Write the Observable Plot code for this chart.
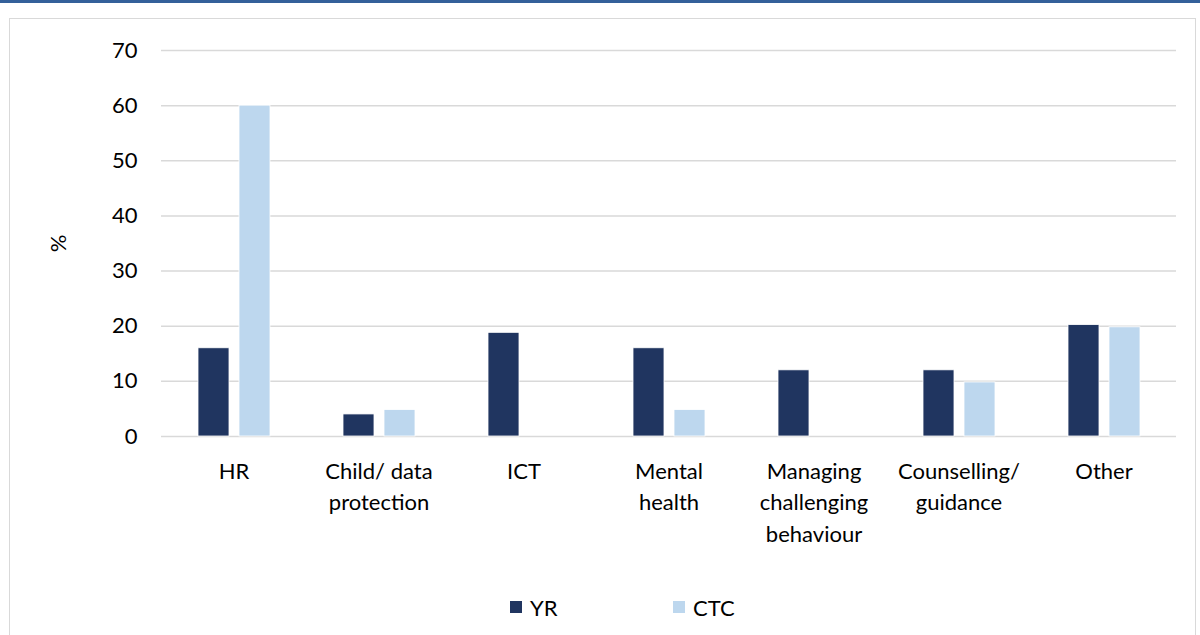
<!DOCTYPE html>
<html>
<head>
<meta charset="utf-8">
<script src="https://cdn.jsdelivr.net/npm/d3@7"></script>
<script src="https://cdn.jsdelivr.net/npm/@observablehq/plot@0.6"></script>
<style>
  html, body { margin: 0; padding: 0; background: #fff; width: 1200px; height: 635px; overflow: hidden; font-family: Lato, "Open Sans", sans-serif; }
  #topbar { position: absolute; left: 0; top: 0; width: 1200px; height: 3px; background: #34609a; }
  #frame { position: absolute; left: 9px; top: 18px; width: 1187px; height: 700px; border: 1.5px solid #d9d9d9; box-sizing: border-box; }
  #chart { position: absolute; left: 0; top: 0; }
  #legend { position: absolute; left: 0; top: 590px; width: 1200px; height: 34px; font-size: 22px; color: #000; }
  .item { position: absolute; top: 0; display: flex; align-items: center; height: 34px; }
  .sw { width: 12px; height: 12px; margin-right: 8px; }
</style>
</head>
<body>
<div id="topbar"></div>
<div id="frame"></div>
<div id="chart"></div>
<div id="legend"></div>
<script>
const categories = ["HR", "Child/ data protection", "ICT", "Mental health", "Managing challenging behaviour", "Counselling/ guidance", "Other"];
const tickLabels = ["HR", "Child/ data\nprotection", "ICT", "Mental\nhealth", "Managing\nchallenging\nbehaviour", "Counselling/\nguidance", "Other"];
const seriesNames = ["YR", "CTC"];
const yrValues = [16, 4, 18.8, 16, 12, 12, 20.2];
const ctcValues = [60, 4.8, 0, 4.8, 0, 9.8, 19.8];
const colors = ["#203560", "#bdd7ee"];
const yTicks = [0, 10, 20, 30, 40, 50, 60, 70];

const data = [];
categories.forEach((c, i) => {
  data.push({cat: c, series: "YR", value: yrValues[i]});
  data.push({cat: c, series: "CTC", value: ctcValues[i]});
});
const labelOf = new Map(categories.map((c, i) => [c, tickLabels[i]]));

const chart = Plot.plot({
  width: 1200,
  height: 580,
  marginLeft: 160,
  marginRight: 23,
  marginTop: 50,
  marginBottom: 144,
  style: {fontFamily: "Lato, 'Open Sans', sans-serif", fontSize: "22px", color: "#000", background: "transparent"},
  fx: {domain: categories, padding: 0, label: null, axis: null},
  x: {domain: seriesNames, paddingInner: 0.244, paddingOuter: 0.89, axis: null},
  y: {domain: [0, 70], ticks: yTicks, label: null},
  color: {domain: seriesNames, range: colors},
  marks: [
    Plot.gridY(yTicks, {stroke: "#d9d9d9", strokeOpacity: 1, strokeWidth: 1.5}),
    Plot.barY(data, {fx: "cat", x: "series", y: "value", fill: "series", stroke: "white", strokeWidth: 0.8}),
    Plot.axisY(yTicks, {tickSize: 0, tickPadding: 24, fontSize: 22, label: "%", labelAnchor: "center", labelArrow: "none", labelOffset: 111}),
    Plot.axisFx({anchor: "bottom", tickSize: 0, tickPadding: 20, fontSize: 22, lineHeight: 1.43, lineAnchor: "top", tickFormat: d => labelOf.get(d), label: null})
  ]
});
document.getElementById("chart").appendChild(chart);

const legend = document.getElementById("legend");
const positions = [510, 673];
seriesNames.forEach((s, i) => {
  const it = document.createElement("div");
  it.className = "item";
  it.style.left = positions[i] + "px";
  const sw = document.createElement("div");
  sw.className = "sw";
  sw.style.background = colors[i];
  const t = document.createElement("span");
  t.textContent = s;
  it.appendChild(sw);
  it.appendChild(t);
  legend.appendChild(it);
});
</script>
</body>
</html>
